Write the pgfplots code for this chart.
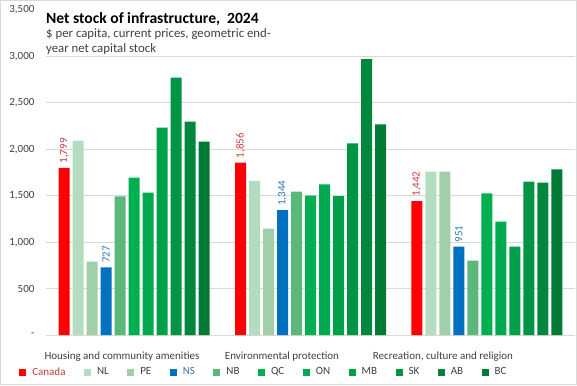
\documentclass[border=0pt]{standalone}
\usepackage{pgfplots}
\pgfplotsset{compat=1.18}
\usepackage{fontspec}
\setmainfont{Carlito}
\definecolor{cCA}{HTML}{FF0000}
\definecolor{cNL}{HTML}{B4DCC0}
\definecolor{cPE}{HTML}{A0D0AA}
\definecolor{cNS}{HTML}{0070C0}
\definecolor{cNB}{HTML}{5CB87A}
\definecolor{cQC}{HTML}{00B050}
\definecolor{cON}{HTML}{00AA50}
\definecolor{cMB}{HTML}{00A04A}
\definecolor{cSK}{HTML}{009444}
\definecolor{cAB}{HTML}{00873E}
\definecolor{cBC}{HTML}{007A35}
\definecolor{lCA}{HTML}{D03A3A}
\definecolor{lNS}{HTML}{2E75B6}
\definecolor{txt}{HTML}{404040}
\begin{document}
\begin{tikzpicture}
\useasboundingbox (0,0) rectangle (577pt,-385pt);
\draw[color=black!15, line width=1pt] (0.5pt,-0.5pt) rectangle (576.5pt,-384.5pt);
\begin{axis}[
  at={(46pt,-335pt)}, anchor=south west,
  width=529pt, height=325pt, scale only axis,
  ybar=3pt, bar width=11pt,
  xmin=-0.5, xmax=2.5, ymin=0, ymax=3500,
  axis line style={draw=none},
  major tick length=0pt,
  /pgf/number format/assume math mode=true,
  ymajorgrids, grid style={color=black!15, line width=0.8pt},
  ytick={0,500,1000,1500,2000,2500,3000},
  yticklabels={{-\hspace{6pt}},500,{1,000},{1,500},{2,000},{2,500},{3,000}},
  extra y ticks={3500}, extra y tick labels={3{,}500},
  extra y tick style={grid=none},
  yticklabel style={font=\fontsize{11}{13}\selectfont, text=txt, anchor=east, xshift=-8pt},
  xtick={-0.069,0.838,1.751},
  xticklabels={Housing and community amenities, Environmental protection, {Recreation, culture and religion}},
  xticklabel style={font=\fontsize{11}{13}\selectfont, text=txt, anchor=base, yshift=-24pt},
  legend columns=-1,
  legend style={draw=none, at={(0.412,-0.114)}, anchor=center,
    font=\fontsize{11}{13}\selectfont, text=txt,
    /tikz/every odd column/.append style={column sep=4pt},
    /tikz/every even column/.append style={column sep=16.5pt}},
  legend image code/.code={\fill[#1] (0pt,-3.5pt) rectangle (7pt,3.5pt);},
  every node near coord/.append style={rotate=90, anchor=west, font=\fontsize{11}{13}\selectfont, xshift=1pt},
]
\addplot[fill=cCA, draw=none, nodes near coords={\pgfmathprintnumber[1000 sep={,}, assume math mode=true]{\pgfplotspointmeta}}, every node near coord/.append style={text=lCA}] coordinates {(0,1799) (1,1856) (2,1442)};
\addlegendentry{\textcolor{lCA}{Canada}}
\addplot[fill=cNL, draw=none] coordinates {(0,2094) (1,1660) (2,1760)};
\addlegendentry{NL}
\addplot[fill=cPE, draw=none] coordinates {(0,790) (1,1146) (2,1760)};
\addlegendentry{PE}
\addplot[fill=cNS, draw=none, nodes near coords={\pgfmathprintnumber[1000 sep={,}, assume math mode=true]{\pgfplotspointmeta}}, every node near coord/.append style={text=lNS}] coordinates {(0,727) (1,1344) (2,951)};
\addlegendentry{\textcolor{lNS}{NS}}
\addplot[fill=cNB, draw=none] coordinates {(0,1493) (1,1545) (2,801)};
\addlegendentry{NB}
\addplot[fill=cQC, draw=none] coordinates {(0,1694) (1,1502) (2,1525)};
\addlegendentry{QC}
\addplot[fill=cON, draw=none] coordinates {(0,1533) (1,1621) (2,1221)};
\addlegendentry{ON}
\addplot[fill=cMB, draw=none] coordinates {(0,2233) (1,1495) (2,952)};
\addlegendentry{MB}
\addplot[fill=cSK, draw=none] coordinates {(0,2772) (1,2063) (2,1653)};
\addlegendentry{SK}
\addplot[fill=cAB, draw=none] coordinates {(0,2297) (1,2970) (2,1642)};
\addlegendentry{AB}
\addplot[fill=cBC, draw=none] coordinates {(0,2083) (1,2268) (2,1784)};
\addlegendentry{BC}
\end{axis}
\node[anchor=base west, font=\bfseries\fontsize{15.6}{18}\selectfont, inner sep=0pt] at (46pt,-23.5pt) {Net stock of infrastructure,\ \ 2024};
\node[anchor=base west, font=\fontsize{12.8}{15}\selectfont, text=txt, inner sep=0pt] at (46pt,-37.5pt) {\$ per capita, current prices, geometric end-};
\node[anchor=base west, font=\fontsize{12.8}{15}\selectfont, text=txt, inner sep=0pt] at (46pt,-53pt) {year net capital stock};
\end{tikzpicture}
\end{document}
